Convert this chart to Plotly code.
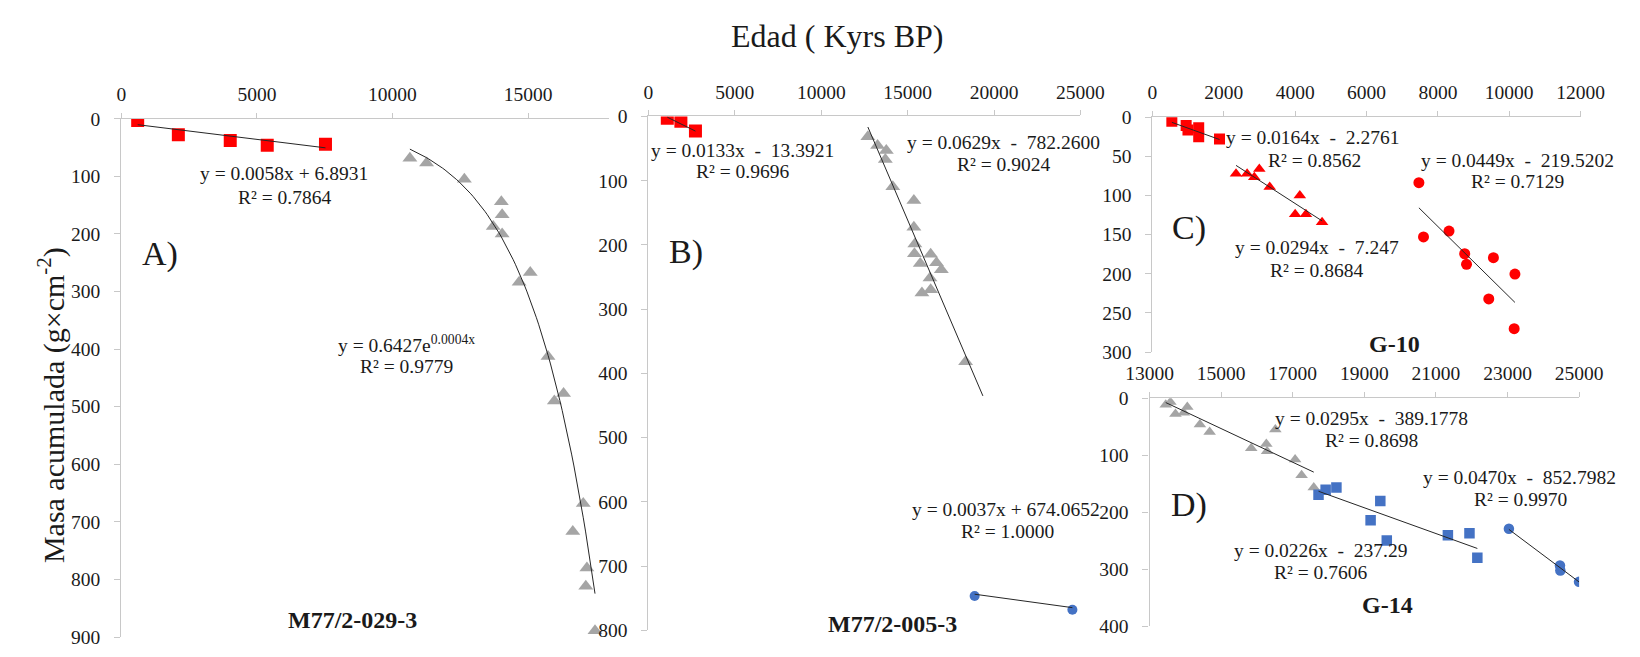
import numpy as np
import plotly.graph_objects as go

W, H = 1640, 657
FONT = "Liberation Serif, Times New Roman, serif"
RED, GRAY, BLUE = "#FF0000", "#A5A5A5", "#4472C4"
AXIS = "#C8C8C8"
TXT = "#1A1A1A"

# ---------------- data ----------------
# A) M77/2-029-3
a_sq_x = [602, 2102, 4016, 5381, 7529]
a_sq_y = [3, 28, 38, 46, 44.5]
a_tri_x = [10643, 11258, 12652, 14016, 14045, 13717, 14045, 14672, 15082,
           15738, 15971, 16311, 17037, 16652, 17172, 17131, 17471]
a_tri_y = [68.5, 77, 105, 144, 166.6, 187.3, 200, 284, 267,
           413, 490, 477, 668, 717, 780, 812, 889]

# B) M77/2-005-3
b_sq_x = [1090, 1876, 2719]
b_sq_y = [2.6, 7.5, 22.6]
b_tri_x = [12697, 13258, 13764, 13708, 14140, 15360, 15360, 15416, 15393,
           15730, 16331, 16669, 16949, 16292, 15826, 16331, 18354]
b_tri_y = [31.7, 45.2, 52.8, 66.8, 109.6, 130.7, 172.4, 198.6, 213.7,
           228.8, 214.7, 227.8, 238.8, 251.4, 275, 270, 382]
b_cir_x = [18876, 24534]
b_cir_y = [746.6, 768]

# C) G-10
c_sq_x = [543, 944, 995, 1296, 1296, 1879]
c_sq_y = [5.3, 10.7, 16.5, 13.6, 25.1, 28]
c_tri_x = [2342, 2653, 2995, 2854, 3286, 4130, 4000, 4302, 4754]
c_tri_y = [72.2, 72.2, 66.3, 76.7, 89.1, 100.2, 124.1, 124.1, 134.4]
c_cir_x = [7468, 7597, 8312, 8752, 8803, 9557, 10160, 9427, 10139]
c_cir_y = [83.7, 153, 145.5, 174.5, 188, 179.5, 200.5, 232.2, 270.2]

# D) G-14
d_tri_x = [13452, 13582, 13723, 13954, 14054, 14406, 14678, 15840, 16262,
           16283, 16514, 17066, 17247, 17587]
d_tri_y = [11.3, 6.8, 27.7, 25.4, 15.3, 46.3, 59.3, 87.6, 80.2,
           93.2, 54.8, 107.3, 135, 156.5]
d_sq_x = [17720, 17919, 18220, 19175, 19446, 19627, 21334, 21937, 22157]
d_sq_y = [169.5, 160.5, 156.5, 214, 180.2, 249.7, 240.2, 236.8, 279.7]
d_cir_x = [23039, 24465, 24476, 24997]
d_cir_y = [228.8, 293.2, 302.2, 322]

# linear trendline coefficients (slope, intercept) and forward forecast
a_sq_fit = (0.0058, 6.8931)
b_sq_fit = (0.0133, -13.3921)
b_tri_fit = (0.0629, -782.2600)
b_tri_forward = 1000
b_cir_fit = (0.0037, 674.0652)
c_sq_fit = (0.0164, -2.2761)
c_tri_fit = (0.0294, -7.247)
c_cir_fit = (0.0449, -219.5202)
d_tri_fit = (0.0295, -389.1778)
d_sq_fit = (0.0226, -237.29)
d_cir_fit = (0.0470, -852.7982)

# ---------------- layout helpers ----------------
def px_x(v):
    return v / W

def px_y(v):
    return 1 - v / H

fig = go.Figure()

panels = {
    # name: (left, right, top, bottom) in px, x range, x dtick, x tick0, y max, y dtick
    "A": ((100.3, 603.0, 112.3, 647.7), [0, 18000], 5000, 0, 900, 100),
    "B": ((643.3, 1088.3, 110.0, 640.7), [0, 25000], 5000, 0, 800, 100),
    "C": ((1162.5, 1603.5, 110.7, 353.3), [0, 12000], 2000, 0, 300, 50),
    "D": ((1159.5, 1602.0, 401.0, 636.7), [13000, 25000], 2000, 13000, 400, 100),
}
axis_ids = {"A": ("x", "y"), "B": ("x2", "y2"), "C": ("x3", "y3"), "D": ("x4", "y4")}

layout_axes = {}
for i, (name, (box, xr, xdt, xt0, ymax, ydt)) in enumerate(panels.items(), start=1):
    l, r, t, b = box
    sx = "" if i == 1 else str(i)
    common = dict(showgrid=False, zeroline=False, showline=True, linecolor=AXIS,
                  linewidth=1.3, ticks="outside", tickcolor=AXIS, tickwidth=1.3,
                  tickformat="d",
                  tickfont=dict(family=FONT, size=19.5, color=TXT))
    layout_axes["xaxis" + sx] = dict(domain=[px_x(l), px_x(r)], range=xr, side="top",
                                     dtick=xdt, tick0=xt0, ticklen=5,
                                     anchor="y" + sx, ticklabelstandoff=4,
                                     **common)
    layout_axes["yaxis" + sx] = dict(domain=[px_y(b), px_y(t)], range=[ymax, 0],
                                     dtick=ydt, ticklen=6, anchor="x" + sx,
                                     ticklabelstandoff=10, **common)


def add_points(ax, x, y, symbol, color, size):
    xa, ya = axis_ids[ax]
    fig.add_trace(go.Scatter(x=x, y=y, mode="markers", xaxis=xa, yaxis=ya,
                             marker=dict(symbol=symbol, color=color, size=size,
                                         line=dict(width=0)),
                             showlegend=False, hoverinfo="x+y"))


def add_linear(ax, x, fit, forward=0):
    xa, ya = axis_ids[ax]
    m, c = fit
    xs = np.array([min(x), max(x) + forward], dtype=float)
    fig.add_trace(go.Scatter(x=xs, y=m * xs + c, mode="lines", xaxis=xa, yaxis=ya,
                             line=dict(color="#262626", width=1),
                             showlegend=False, hoverinfo="skip"))


def add_exponential(ax, x, y):
    # least-squares fit on ln(y), as a spreadsheet exponential trendline does
    xa, ya = axis_ids[ax]
    x = np.asarray(x, float)
    k, ln_a = np.polyfit(x, np.log(np.asarray(y, float)), 1)
    xs = np.linspace(x.min(), x.max(), 80)
    fig.add_trace(go.Scatter(x=xs, y=np.exp(ln_a) * np.exp(k * xs), mode="lines",
                             xaxis=xa, yaxis=ya, line=dict(color="#262626", width=1),
                             showlegend=False, hoverinfo="skip"))


# A
add_points("A", a_sq_x, a_sq_y, "square", RED, 13)
add_points("A", a_tri_x, a_tri_y, "triangle-up", GRAY, 13)
add_linear("A", a_sq_x, a_sq_fit)
add_exponential("A", a_tri_x, a_tri_y)
# B
add_points("B", b_sq_x, b_sq_y, "square", RED, 13)
add_points("B", b_tri_x, b_tri_y, "triangle-up", GRAY, 13)
add_points("B", b_cir_x, b_cir_y, "circle", BLUE, 10)
add_linear("B", b_sq_x, b_sq_fit)
add_linear("B", b_tri_x, b_tri_fit, b_tri_forward)
add_linear("B", b_cir_x, b_cir_fit)
# C
add_points("C", c_sq_x, c_sq_y, "square", RED, 11)
add_points("C", c_tri_x, c_tri_y, "triangle-up", RED, 11)
add_points("C", c_cir_x, c_cir_y, "circle", RED, 11)
add_linear("C", c_sq_x, c_sq_fit)
add_linear("C", c_tri_x, c_tri_fit)
add_linear("C", c_cir_x, c_cir_fit)
# D
add_points("D", d_tri_x, d_tri_y, "triangle-up", GRAY, 11)
add_points("D", d_sq_x, d_sq_y, "square", BLUE, 10.5)
add_points("D", d_cir_x, d_cir_y, "circle", BLUE, 10.5)
add_linear("D", d_tri_x, d_tri_fit)
add_linear("D", d_sq_x, d_sq_fit)
add_linear("D", d_cir_x, d_cir_fit)

annots = []


def note(x, y, text, size=19.5, bold=False, angle=0):
    if bold:
        text = f"<b>{text}</b>"
    annots.append(dict(x=px_x(x), y=px_y(y), xref="paper", yref="paper", text=text,
                       showarrow=False, xanchor="center", yanchor="middle",
                       textangle=angle, font=dict(family=FONT, size=size, color=TXT)))


note(837, 27, "Edad ( Kyrs BP)", size=32)
note(29, 408, "Masa acumulada (g×cm<sup>-2</sup>)", size=30, angle=-90)

# A
note(268, 169.3, "y = 0.0058x + 6.8931")
note(268, 193.3, "R² = 0.7864")
note(394, 345, "y = 0.6427e<sup>0.0004x</sup>")
note(394, 368, "R² = 0.9779")
note(139.7, 251.7, "A)", size=34)
note(338.6, 630, "M77/2-029-3", size=24, bold=True)
# B
note(740, 145, "y = 0.0133x  -  13.3921")
note(740, 167.3, "R² = 0.9696")
note(1008.8, 137.3, "y = 0.0629x  -  782.2600")
note(1009.3, 160, "R² = 0.9024")
note(1012, 515.7, "y = 0.0037x + 674.0652")
note(1012.7, 539, "R² = 1.0000")
note(681.7, 250, "B)", size=34)
note(895, 634.3, "M77/2-005-3", size=24, bold=True)
# C
note(1328.2, 131.7, "y = 0.0164x  -  2.2761")
note(1329, 155.7, "R² = 0.8562")
note(1331.9, 245.7, "y = 0.0294x  -  7.247")
note(1331.9, 269, "R² = 0.8684")
note(1539, 155, "y = 0.0449x  -  219.5202")
note(1538.3, 177.3, "R² = 0.7129")
note(1199.8, 225.7, "C)", size=34)
note(1411.4, 345, "G-10", size=24, bold=True)
# D
note(1388.5, 422.3, "y = 0.0295x  -  389.1778")
note(1388.5, 445, "R² = 0.8698")
note(1540.9, 483.3, "y = 0.0470x  -  852.7982")
note(1541.6, 506, "R² = 0.9970")
note(1335.6, 558.3, "y = 0.0226x  -  237.29")
note(1335.6, 581, "R² = 0.7606")
note(1199.8, 511, "D)", size=34)
note(1404.8, 615, "G-14", size=24, bold=True)

fig.update_layout(width=W, height=H, margin=dict(l=0, r=0, t=0, b=0),
                  paper_bgcolor="white", plot_bgcolor="rgba(0,0,0,0)",
                  annotations=annots, showlegend=False, **layout_axes)

fig.write_html("out.html", config={"displayModeBar": False})
